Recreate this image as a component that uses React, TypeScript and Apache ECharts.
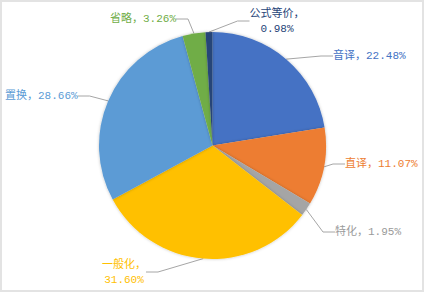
import React, { useEffect, useRef } from "react";
import * as echarts from "echarts";

const categories = ["音译", "直译", "特化", "一般化", "置换", "省略", "公式等价"];
const values = [22.48, 11.07, 1.95, 31.6, 28.66, 3.26, 0.98];
const colors = ["#4472C4", "#ED7D31", "#A5A5A5", "#FFC000", "#5B9BD5", "#70AD47", "#264478"];
const labelColors = ["#4472C4", "#ED7D31", "#9a9a9a", "#FFC000", "#5B9BD5", "#70AD47", "#264478"];
const twoLine = ["一般化", "公式等价"];

// label anchor placement (x, y, align)
const labelPlace: [number, number, string][] = [
  [333, 56, "left"],
  [345, 164, "left"],
  [335, 232, "left"],
  [124, 272, "center"],
  [5, 96, "left"],
  [110, 19, "left"],
  [277, 21, "center"],
];

export default function App() {
  const ref = useRef<HTMLDivElement>(null);
  useEffect(() => {
    if (!ref.current) return;
    const chart = echarts.init(ref.current, null, { renderer: "svg" });
    chart.setOption({
      animation: false,
      backgroundColor: "#ffffff",
      graphic: [
        {
          type: "rect",
          shape: { x: 1, y: 1, width: 422, height: 290 },
          style: { fill: "none", stroke: "#e3e3e3", lineWidth: 2 },
          silent: true,
        },
      ],
      series: [
        {
          type: "pie",
          center: [212.5, 145.5],
          radius: 113.5,
          startAngle: 90,
          clockwise: true,
          data: categories.map((c, i) => ({
            name: c,
            value: values[i],
            itemStyle: { color: colors[i] },
            label: { color: labelColors[i] },
          })),
          itemStyle: {
            shadowBlur: 3,
            shadowColor: "rgba(0,0,0,0.25)",
          },
          label: {
            show: true,
            position: "outside",
            overflow: "none",
            edgeDistance: 0,
            bleedMargin: 0,
            fontFamily: "'Liberation Mono', 'Noto Sans CJK SC'",
            fontSize: 11,
            lineHeight: 15,
            formatter: (p: any) =>
              p.name + "，" + (twoLine.includes(p.name) ? "\n" : "") + Number(p.value).toFixed(2) + "%",
          },
          labelLayout: (p: any) => {
            const pl = labelPlace[p.dataIndex];
            return { x: pl[0], y: pl[1], align: pl[2], verticalAlign: "middle", hideOverlap: false };
          },
          labelLine: {
            show: true,
            length: 10,
            length2: 12,
            lineStyle: { color: "#a6a6a6", width: 1 },
          },
        },
      ],
    });
    return () => chart.dispose();
  }, []);
  return (
    <div
      ref={ref}
      style={{ position: "fixed", left: 0, top: 0, width: 425, height: 293 }}
    />
  );
}
